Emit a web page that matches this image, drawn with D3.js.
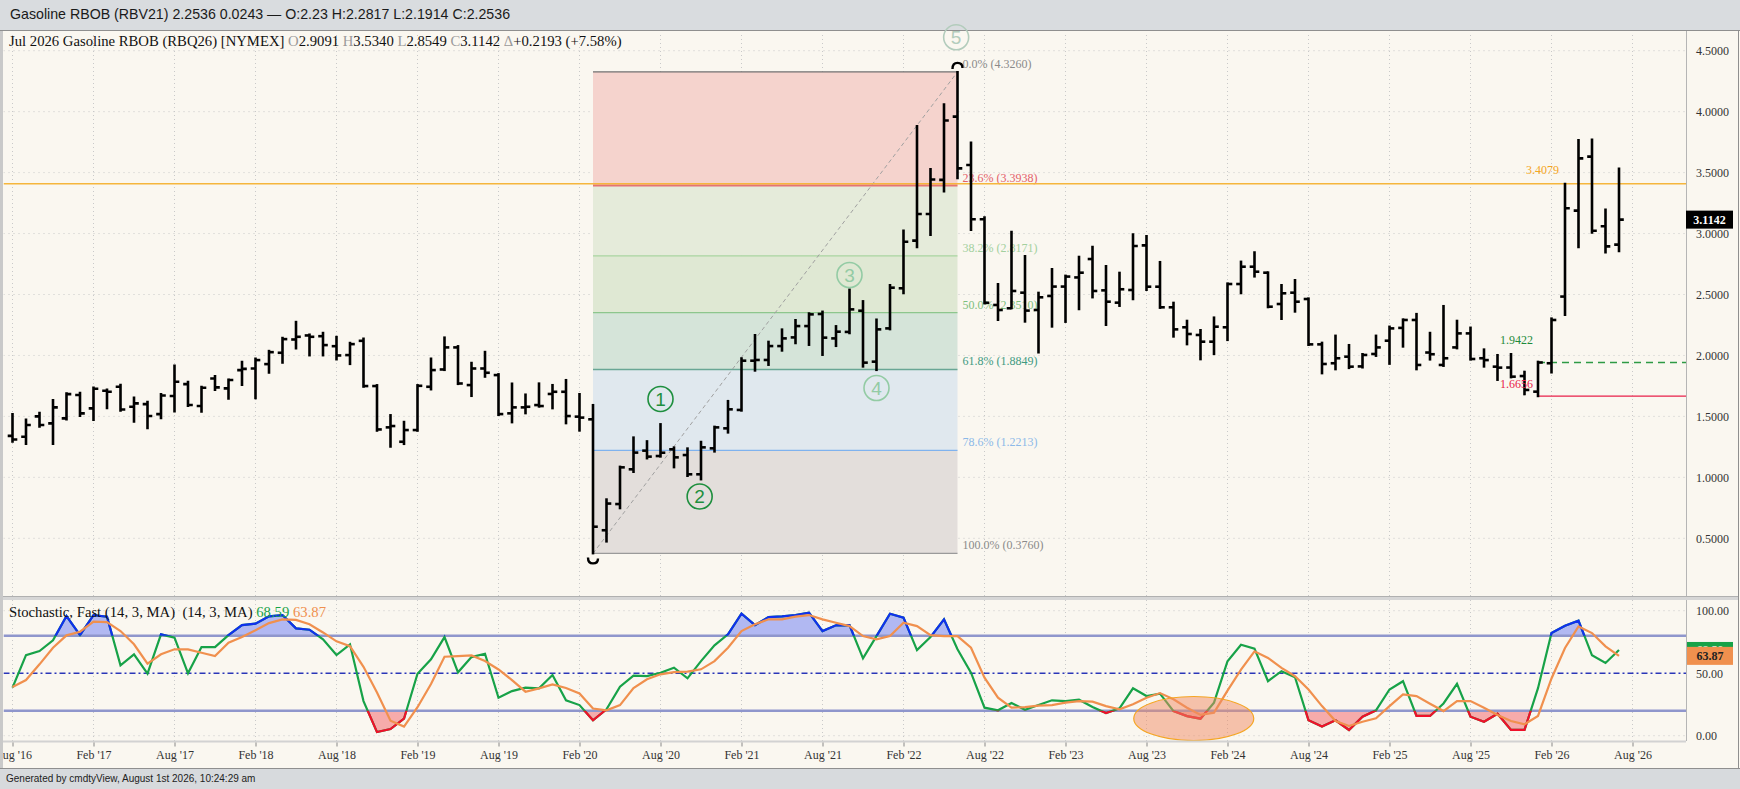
<!DOCTYPE html>
<html><head><meta charset="utf-8">
<script src="https://cdn.jsdelivr.net/npm/d3@7"></script>
<style>body{margin:0;background:#d9dcdf;overflow:hidden}svg{display:block}</style>
</head><body>
<svg id="c" width="1740" height="789"></svg>
<script>
// ---------- DATA ----------
const tickLabels = ["Aug '16","Feb '17","Aug '17","Feb '18","Aug '18","Feb '19","Aug '19","Feb '20","Aug '20","Feb '21","Aug '21","Feb '22","Aug '22","Feb '23","Aug '23","Feb '24","Aug '24","Feb '25","Aug '25","Feb '26","Aug '26"];
const priceTicks = [0.5,1.0,1.5,2.0,2.5,3.0,3.5,4.0,4.5];
const stochTicks = [0,50,100];
const months = d3.timeMonth.range(new Date(2016,7,1), new Date(2026,7,1)); // Aug 2016 .. Jul 2026

const open = [1.34,1.333,1.50,1.443,1.484,1.675,1.566,1.710,1.743,1.579,
1.601,1.519,1.667,1.765,1.585,1.811,1.730,1.880,1.893,1.929,
2.022,2.131,2.164,2.158,2.076,2.003,2.120,1.749,1.410,1.292,
1.388,1.743,1.885,2.066,1.757,1.893,1.839,1.525,1.574,1.593,
1.684,1.702,1.498,1.476,0.566,0.781,1.066,1.219,1.175,1.230,
1.183,1.025,1.238,1.402,1.553,1.957,1.963,2.077,2.148,2.241,
2.340,2.140,2.193,2.367,1.949,2.222,2.551,2.942,3.160,3.440,
3.959,3.562,3.117,2.414,2.387,2.515,2.373,2.488,2.565,2.640,
2.791,2.534,2.433,2.537,2.903,2.564,2.395,2.231,2.168,2.113,
2.231,2.586,2.728,2.679,2.422,2.515,2.463,2.091,1.936,1.990,
1.910,2.012,2.121,2.226,2.291,2.024,1.922,2.066,2.181,1.977,
1.908,1.901,1.831,1.703,1.936,2.483,3.188,3.631,3.060,2.9091];
const high = [1.519,1.475,1.530,1.634,1.689,1.694,1.738,1.721,1.760,1.656,
1.620,1.683,1.918,1.784,1.743,1.831,1.803,1.948,1.975,2.038,
2.145,2.276,2.172,2.186,2.153,2.104,2.139,1.757,1.511,1.456,
1.757,1.975,2.148,2.077,1.940,2.030,1.847,1.770,1.680,1.771,
1.758,1.799,1.684,1.594,0.820,1.088,1.328,1.297,1.437,1.246,
1.238,1.292,1.416,1.627,1.977,2.168,2.113,2.214,2.291,2.346,
2.360,2.241,2.541,2.446,2.295,2.578,3.024,3.882,3.529,4.060,
4.326,3.746,3.133,2.586,3.015,2.816,2.515,2.709,2.655,2.810,
2.892,2.734,2.679,2.994,2.980,2.767,2.433,2.285,2.209,2.312,
2.591,2.770,2.846,2.682,2.578,2.619,2.468,2.105,2.163,2.086,
2.012,2.163,2.237,2.296,2.341,2.186,2.406,2.285,2.229,2.050,
2.004,2.012,1.867,1.949,2.304,3.4079,3.767,3.772,3.198,3.5340];
const low = [1.292,1.273,1.415,1.273,1.475,1.503,1.470,1.566,1.546,1.456,
1.402,1.484,1.541,1.585,1.538,1.716,1.645,1.757,1.648,1.858,
1.940,2.057,2.000,2.000,1.967,1.929,1.743,1.382,1.251,1.273,
1.382,1.721,1.880,1.765,1.667,1.825,1.511,1.451,1.525,1.580,
1.566,1.443,1.383,0.376,0.473,0.746,1.044,1.155,1.170,1.082,
1.011,0.983,1.211,1.367,1.547,1.875,1.922,2.039,2.100,2.086,
2.004,2.077,2.182,1.908,1.880,2.214,2.510,2.887,2.988,3.344,
3.453,3.029,2.427,2.291,2.387,2.277,2.024,2.236,2.275,2.379,
2.476,2.250,2.406,2.461,2.537,2.390,2.154,2.091,1.968,2.011,
2.126,2.510,2.647,2.395,2.299,2.359,2.086,1.853,1.886,1.896,
1.901,1.996,1.931,2.072,1.886,1.966,1.914,2.058,1.966,1.908,
1.799,1.820,1.681,1.6656,1.860,2.332,2.887,3.007,2.845,2.8549];
const close = [1.31,1.429,1.429,1.574,1.683,1.525,1.727,1.702,1.557,1.607,
1.503,1.672,1.784,1.593,1.735,1.738,1.798,1.890,1.962,2.027,
2.134,2.153,2.153,2.085,2.000,2.093,1.749,1.393,1.421,1.388,
1.751,1.880,2.066,1.770,1.893,1.858,1.519,1.574,1.579,1.585,
1.702,1.503,1.490,0.595,0.785,1.082,1.203,1.170,1.202,1.164,
1.025,1.246,1.410,1.558,1.957,1.963,2.077,2.140,2.241,2.337,
2.146,2.195,2.378,1.941,2.214,2.556,2.933,3.160,3.444,3.927,
3.535,3.117,2.432,2.373,2.529,2.368,2.477,2.565,2.647,2.679,
2.529,2.441,2.543,2.898,2.564,2.395,2.214,2.176,2.113,2.236,
2.586,2.728,2.687,2.400,2.510,2.441,2.091,1.930,1.977,1.908,
2.004,2.066,2.222,2.291,1.922,2.010,1.977,2.181,1.971,1.962,
1.900,1.826,1.717,1.9422,2.291,3.207,3.617,3.023,2.8949,3.1142];

const stochK = [38.4,64.5,67.7,76.3,95.7,80.5,96.5,95.2,56.3,65.1,
49.6,81.1,78.4,49.9,70.9,70.9,80.5,88.5,89.6,95.5,
96.5,85.9,84.8,77.1,64.5,73.1,27.7,2.9,5.3,13.6,
49.6,61.1,78.9,50.7,62.9,65.6,30.4,35.7,38.4,37.9,
48.5,28.3,24.5,12.3,21.1,39.2,48.0,47.7,50.4,54.4,
45.9,59.7,72.3,81.1,97.6,88.5,94.9,95.5,96.5,98.4,
83.7,88.3,88.5,61.9,79.7,97.6,94.4,68.5,78.9,93.1,
69.1,50.4,22.4,20.3,26.1,20.8,24.5,28.3,27.7,28.8,
22.9,18.1,21.9,37.9,31.7,33.6,19.7,15.7,13.6,26.4,
59.6,72.8,69.7,43.6,51.6,46.8,12.3,7.3,12.3,4.6,
15.2,20.3,37.0,43.6,15.8,15.8,25.8,41.5,15.2,11.2,
17.6,4.6,4.6,38.0,82.1,88.0,92.0,64.3,58.2,68.59];
const stochD = [38.9,44.5,57.1,70.4,80.3,83.2,91.2,90.9,83.7,73.1,
57.6,65.1,69.1,69.1,66.4,63.7,74.4,78.9,84.3,90.1,
93.1,92.6,89.1,82.6,75.5,71.6,55.1,34.6,12.0,7.3,
22.8,41.4,63.2,63.6,64.2,59.7,53.0,44.5,35.2,37.9,
41.1,38.2,33.8,21.7,20.3,24.5,38.1,45.1,49.1,50.9,
51.2,53.1,59.7,70.4,83.7,89.1,93.1,93.1,95.2,96.5,
93.1,90.4,87.7,79.7,77.1,79.7,90.4,87.7,80.5,79.7,
79.7,70.4,46.4,30.4,22.4,22.9,24.0,24.5,26.4,27.7,
27.2,23.7,21.1,25.1,30.4,34.1,29.1,22.4,16.6,18.4,
36.0,52.9,67.5,62.2,54.2,47.6,37.0,23.7,11.8,7.8,
11.2,13.9,23.7,33.0,31.7,25.6,19.7,27.7,27.7,22.4,
16.6,11.8,9.1,15.8,45.8,70.2,87.4,82.1,71.5,63.87];

const fibLevels = [0, 23.6, 38.2, 50.0, 61.8, 78.6, 100.0];
const fibPrices = [4.3260, 3.3938, 2.8171, 2.3510, 1.8849, 1.2213, 0.3760];
const fibStartIdx = 43, fibEndIdx = 70;
const orangeLevel = 3.4079, greenLevel = 1.9422, redLevel = 1.6656, levelStartIdx = 113;
const waves = [{n:"1",i:48.0,p:1.643,c:"#1e8f3e"},{n:"2",i:50.9,p:0.843,c:"#1e8f3e"},
               {n:"3",i:62.0,p:2.66,c:"#93cba4"},{n:"4",i:64.0,p:1.733,c:"#93cba4"},{n:"5",i:69.9,p:4.61,c:"#b3ccbc"}];

// ---------- LAYOUT ----------
const svg = d3.select('#c');
const serif = '"Liberation Serif","Times New Roman",serif';
const sans = '"Liberation Sans",Arial,sans-serif';
const X0 = 3.5, XR = 1686, PT = 31, PB = 596, ST = 600, SB = 741;

const x = d3.scaleLinear().domain([0,120]).range([12.5, 12.5+120*13.5]);
const y = d3.scaleLinear().domain([0.5,4.5]).range([538.3,50.7]);
const ys = d3.scaleLinear().domain([0,100]).range([735.7,610.7]);

svg.append('rect').attr('width',1740).attr('height',789).attr('fill','#d9dcdf');
svg.append('text').attr('x',10).attr('y',19).attr('font-family',sans).attr('font-size',14.2).attr('fill','#1a1a1a')
  .text('Gasoline RBOB (RBV21) 2.2536 0.0243 \u2014 O:2.23 H:2.2817 L:2.1914 C:2.2536');
svg.append('rect').attr('x',0).attr('y',30).attr('width',1740).attr('height',738).attr('fill','#faf7f0');
svg.append('rect').attr('x',0).attr('y',30).attr('width',3).attr('height',738).attr('fill','#c9c9c9');
svg.append('line').attr('x1',0).attr('x2',1740).attr('y1',30.5).attr('y2',30.5).attr('stroke','#8f8f8f');
svg.append('line').attr('x1',1738.5).attr('x2',1738.5).attr('y1',30).attr('y2',768).attr('stroke','#8f8f8f');

const defs = svg.append('defs');
defs.append('clipPath').attr('id','pclip').append('rect').attr('x',X0).attr('y',PT+1).attr('width',XR-X0).attr('height',PB-PT-1);
defs.append('clipPath').attr('id','sclip').append('rect').attr('x',X0).attr('y',ST).attr('width',XR-X0).attr('height',SB-ST);
defs.append('clipPath').attr('id','above80').append('rect').attr('x',X0).attr('y',ST).attr('width',XR-X0).attr('height',ys(80)-ST);
defs.append('clipPath').attr('id','below20').append('rect').attr('x',X0).attr('y',ys(20)).attr('width',XR-X0).attr('height',SB-ys(20));
defs.append('clipPath').attr('id','tagclip').append('rect').attr('x',XR).attr('y',ys(stochK[119])-8).attr('width',50).attr('height',ys(stochD[119])-9-(ys(stochK[119])-8));

const tickIdx = d3.range(0,121,6);

// ---------- PRICE PANE ----------
const pg = svg.append('g').attr('clip-path','url(#pclip)');
pg.selectAll('.vg').data(tickIdx).join('line').attr('x1',d=>x(d)).attr('x2',d=>x(d)).attr('y1',PT).attr('y2',PB)
  .attr('stroke','#c9c9c9').attr('stroke-dasharray','1,3');
pg.selectAll('.hg').data(priceTicks).join('line').attr('x1',X0).attr('x2',XR).attr('y1',d=>y(d)).attr('y2',d=>y(d))
  .attr('stroke','#c9c9c9').attr('stroke-dasharray','1,4');

const fx0 = x(fibStartIdx), fx1 = x(fibEndIdx);
const zoneFill = ['#f5d3cd','#e5ebda','#dfe8d3','#d5e4d9','#e0e8ee','#e3dedb'];
const lineCol = ['#707070','#e57373','#a9d5a0','#8dc68d','#69a695','#7fb2ee','#9a9a9a'];
const labCol = ['#8a8a8a','#e4606a','#a3d09e','#7dbf7d','#3f9a82','#8cb9e8','#8a8a8a'];
for (let k=0;k<6;k++){
  pg.append('rect').attr('x',fx0).attr('width',fx1-fx0).attr('y',y(fibPrices[k])).attr('height',y(fibPrices[k+1])-y(fibPrices[k]))
    .attr('fill',zoneFill[k]);
}
fibPrices.forEach((p,k)=>{
  pg.append('line').attr('x1',fx0).attr('x2',fx1).attr('y1',y(p)).attr('y2',y(p)).attr('stroke',lineCol[k]).attr('stroke-width',k==1?2:1.3);
  pg.append('text').attr('x',fx1+5).attr('y',y(p)-4).attr('font-family',serif).attr('font-size',12).attr('fill',labCol[k])
    .text(fibLevels[k].toFixed(1)+'% ('+p.toFixed(4)+')');
});
pg.append('line').attr('x1',fx0).attr('y1',y(fibPrices[6])).attr('x2',fx1).attr('y2',y(fibPrices[0]))
  .attr('stroke','#a0a0a0').attr('stroke-dasharray','4,3').attr('stroke-width',1);

pg.append('line').attr('x1',X0).attr('x2',XR).attr('y1',y(orangeLevel)).attr('y2',y(orangeLevel)).attr('stroke','#f5b63c').attr('stroke-width',1.5);
pg.append('line').attr('x1',x(levelStartIdx)).attr('x2',XR).attr('y1',y(greenLevel)).attr('y2',y(greenLevel))
  .attr('stroke','#2e9a45').attr('stroke-width',1.5).attr('stroke-dasharray','7,5');
pg.append('line').attr('x1',x(levelStartIdx)).attr('x2',XR).attr('y1',y(redLevel)).attr('y2',y(redLevel)).attr('stroke','#e8204a').attr('stroke-width',1.3);

const bars = pg.append('g').attr('stroke','#000').attr('stroke-width',2.6);
months.forEach((m,i)=>{
  const cx = x(i);
  bars.append('line').attr('x1',cx).attr('x2',cx).attr('y1',y(high[i])-1).attr('y2',y(low[i])+1);
  bars.append('line').attr('x1',cx-4.8).attr('x2',cx).attr('y1',y(open[i])).attr('y2',y(open[i]));
  bars.append('line').attr('x1',cx).attr('x2',cx+4.8).attr('y1',y(close[i])).attr('y2',y(close[i]));
});

const lx = x(fibStartIdx), ly = y(fibPrices[6]);
pg.append('path').attr('d',`M${lx-5},${ly+4} Q${lx-5},${ly+10} ${lx},${ly+10} Q${lx+5},${ly+10} ${lx+5},${ly+5}`)
  .attr('fill','none').attr('stroke','#000').attr('stroke-width',2.4);
const hx = x(fibEndIdx), hy = y(fibPrices[0]);
pg.append('path').attr('d',`M${hx-5},${hy-3} Q${hx-5},${hy-9} ${hx},${hy-9} Q${hx+5},${hy-9} ${hx+5},${hy-4}`)
  .attr('fill','none').attr('stroke','#000').attr('stroke-width',2.4);

pg.append('text').attr('x',1559).attr('y',y(orangeLevel)-10).attr('text-anchor','end').attr('font-family',serif).attr('font-size',12).attr('fill','#f5a623').text(orangeLevel.toFixed(4));
pg.append('text').attr('x',1533).attr('y',y(greenLevel)-18).attr('text-anchor','end').attr('font-family',serif).attr('font-size',12).attr('fill','#1e8a3a').text(greenLevel.toFixed(4));
pg.append('text').attr('x',1533).attr('y',y(redLevel)-8).attr('text-anchor','end').attr('font-family',serif).attr('font-size',12).attr('fill','#e8204a').text(redLevel.toFixed(4));

const ph = svg.append('text').attr('x',9).attr('y',46).attr('font-family',serif).attr('font-size',14.7).attr('fill','#111');
ph.append('tspan').text('Jul 2026 Gasoline RBOB (RBQ26) [NYMEX] ');
[['O','2.9091'],['H','3.5340'],['L','2.8549'],['C','3.1142'],['\u0394','+0.2193 (+7.58%)']].forEach(([a,b])=>{
  ph.append('tspan').attr('fill','#9a9a9a').text(a); ph.append('tspan').text(b+' ');
});

waves.forEach(w=>{
  const g = svg.append('g').attr('transform',`translate(${x(w.i)},${y(w.p)})`);
  g.append('circle').attr('r',12.5).attr('fill','none').attr('stroke',w.c).attr('stroke-width',1.6);
  g.append('text').attr('text-anchor','middle').attr('dy','0.36em').attr('font-family',sans).attr('font-size',19).attr('fill',w.c).text(w.n);
});

svg.append('line').attr('x1',XR+0.5).attr('x2',XR+0.5).attr('y1',PT).attr('y2',SB).attr('stroke','#b5b5b5');
const pa = svg.append('g').attr('transform',`translate(${XR+10},0)`).call(d3.axisRight(y).tickValues(priceTicks).tickSize(0).tickFormat(d3.format('.4f')));
pa.select('.domain').remove();
pa.selectAll('text').attr('x',0).attr('font-family',serif).attr('font-size',12).attr('fill','#333');
svg.append('rect').attr('x',XR).attr('y',y(close[119])-9).attr('width',47).attr('height',18).attr('fill','#000');
svg.append('text').attr('x',XR+23.5).attr('y',y(close[119])).attr('dy','0.35em').attr('text-anchor','middle').attr('font-family',serif)
  .attr('font-size',12).attr('font-weight','bold').attr('fill','#fff').text(close[119].toFixed(4));

svg.append('rect').attr('x',3).attr('y',PB).attr('width',1735).attr('height',4).attr('fill','#d6d6d6');
svg.append('line').attr('x1',3).attr('x2',1738).attr('y1',PB+0.5).attr('y2',PB+0.5).attr('stroke','#b0b0b0');

// ---------- STOCHASTIC PANE ----------
const sg = svg.append('g').attr('clip-path','url(#sclip)');
sg.selectAll('.svg').data(tickIdx).join('line').attr('x1',d=>x(d)).attr('x2',d=>x(d)).attr('y1',ST).attr('y2',SB)
  .attr('stroke','#c9c9c9').attr('stroke-dasharray','1,3');
sg.selectAll('.shg').data([0,100]).join('line').attr('x1',X0).attr('x2',XR).attr('y1',d=>ys(d)).attr('y2',d=>ys(d))
  .attr('stroke','#c9c9c9').attr('stroke-dasharray','1,4');

const kLine = d3.line().x((d,i)=>x(i)).y(d=>ys(d));
sg.append('path').attr('clip-path','url(#above80)').attr('d',d3.area().x((d,i)=>x(i)).y0(ys(80)).y1(d=>ys(d))(stochK)).attr('fill','#b1b8f2');
sg.append('path').attr('clip-path','url(#below20)').attr('d',d3.area().x((d,i)=>x(i)).y0(ys(20)).y1(d=>ys(d))(stochK)).attr('fill','#f6abab');

sg.append('line').attr('x1',X0).attr('x2',XR).attr('y1',ys(80)).attr('y2',ys(80)).attr('stroke','#8f96cc').attr('stroke-width',2.5);
sg.append('line').attr('x1',X0).attr('x2',XR).attr('y1',ys(20)).attr('y2',ys(20)).attr('stroke','#8f96cc').attr('stroke-width',2.5);
sg.append('line').attr('x1',X0).attr('x2',XR).attr('y1',ys(50)).attr('y2',ys(50)).attr('stroke','#2a36b8').attr('stroke-width',1.4).attr('stroke-dasharray','6,3,2,3');

sg.append('path').attr('d',kLine(stochK)).attr('fill','none').attr('stroke','#17a248').attr('stroke-width',2.2);
sg.append('path').attr('clip-path','url(#above80)').attr('d',kLine(stochK)).attr('fill','none').attr('stroke','#1030ee').attr('stroke-width',2.2);
sg.append('path').attr('clip-path','url(#below20)').attr('d',kLine(stochK)).attr('fill','none').attr('stroke','#f0102a').attr('stroke-width',2.2);
sg.append('path').attr('d',kLine(stochD)).attr('fill','none').attr('stroke','#f0904e').attr('stroke-width',2.2);

sg.append('ellipse').attr('cx',x(87.5)).attr('cy',718.5).attr('rx',60).attr('ry',22).attr('fill','rgba(240,140,100,0.5)').attr('stroke','#f5a623').attr('stroke-width',1.2);

const st = svg.append('text').attr('x',9).attr('y',617).attr('font-family',serif).attr('font-size',14.7).attr('fill','#111');
st.append('tspan').text('Stochastic, Fast (14, 3, MA)\u00a0\u00a0(14, 3, MA) ');
st.append('tspan').attr('fill','#17a248').text(stochK[119].toFixed(2)+' ');
st.append('tspan').attr('fill','#f0904e').text(stochD[119].toFixed(2));

const sa = svg.append('g').attr('transform',`translate(${XR+10},0)`).call(d3.axisRight(ys).tickValues(stochTicks).tickSize(0).tickFormat(d3.format('.2f')));
sa.select('.domain').remove();
sa.selectAll('text').attr('x',0).attr('font-family',serif).attr('font-size',12).attr('fill','#333');
svg.append('rect').attr('x',XR+1).attr('y',ys(stochK[119])-8).attr('width',46).attr('height',16).attr('fill','#17a248');
svg.append('text').attr('clip-path','url(#tagclip)').attr('x',XR+24).attr('y',ys(stochK[119])).attr('dy','0.35em').attr('text-anchor','middle').attr('font-family',serif).attr('font-size',12).attr('font-weight','bold').attr('fill','#fff').text(stochK[119].toFixed(2));
svg.append('rect').attr('x',XR+1).attr('y',ys(stochD[119])-9).attr('width',46).attr('height',18).attr('fill','#f0904e');
svg.append('text').attr('x',XR+24).attr('y',ys(stochD[119])).attr('dy','0.35em').attr('text-anchor','middle').attr('font-family',serif).attr('font-size',12).attr('font-weight','bold').attr('fill','#222').text(stochD[119].toFixed(2));

svg.append('rect').attr('x',3).attr('y',SB-0.5).attr('width',XR-3).attr('height',2).attr('fill','#d2d2d2');
const xa = svg.append('g').attr('transform',`translate(0,${SB+1.5})`)
  .call(d3.axisBottom(x).tickValues(tickIdx).tickSize(4).tickPadding(4).tickFormat((d,i)=>tickLabels[i]));
xa.select('.domain').remove();
xa.selectAll('line').attr('stroke','#888');
xa.selectAll('text').attr('font-family',serif).attr('font-size',12).attr('fill','#333');
svg.append('rect').attr('x',0).attr('y',SB).attr('width',3).attr('height',27).attr('fill','#c9c9c9');

svg.append('rect').attr('x',0).attr('y',768).attr('width',1740).attr('height',21).attr('fill','#d7dadd');
svg.append('line').attr('x1',0).attr('x2',1740).attr('y1',768.5).attr('y2',768.5).attr('stroke','#8f8f8f');
svg.append('text').attr('x',6).attr('y',782).attr('font-family',sans).attr('font-size',10).attr('fill','#222')
  .text('Generated by cmdtyView, August 1st 2026, 10:24:29 am');
</script>
</body></html>
